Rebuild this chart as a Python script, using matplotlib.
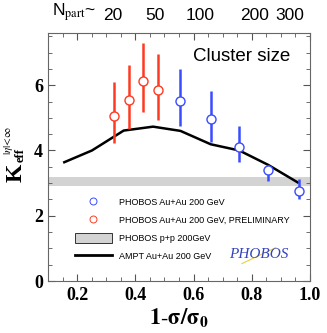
import numpy as np
import matplotlib
matplotlib.use('Agg')
import matplotlib.pyplot as plt
from matplotlib.patches import Patch
from matplotlib.lines import Line2D
from matplotlib.ticker import MultipleLocator

plt.rcParams['mathtext.fontset'] = 'stix'

# PHOBOS Au+Au 200 GeV
x_azul = [0.555, 0.659, 0.757, 0.855, 0.961]
y_azul = [5.52, 4.97, 4.12, 3.40, 2.77]
err_azul_sup = [6.50, 5.83, 4.75, 3.56, 3.13]
err_azul_inf = [4.75, 4.27, 3.64, 3.07, 2.52]

# PHOBOS Au+Au 200 GeV, preliminar
x_verm = [0.328, 0.377, 0.425, 0.477]
y_verm = [5.07, 5.56, 6.14, 5.86]
err_verm_sup = [6.11, 6.63, 7.29, 6.96]
err_verm_inf = [4.22, 4.65, 5.19, 4.92]

# AMPT
x_ampt = [0.156, 0.251, 0.360, 0.461, 0.555, 0.659, 0.757, 0.856, 0.958]
y_ampt = [3.64, 4.00, 4.61, 4.73, 4.60, 4.19, 4.00, 3.56, 3.02]

# banda p+p
pp_min, pp_max = 2.92, 3.18

npart_lbl = ['20', '50', '100', '200', '300']
npart_x = [0.324, 0.469, 0.624, 0.810, 0.931]

azul = '#3a4cff'
verm = '#ff3a22'

W, H = 327, 333
fig = plt.figure(figsize=(W / 100, H / 100), dpi=100)
ax = fig.add_axes([48 / W, 52 / H, 262 / W, 248 / H])

ax.axhspan(pp_min, pp_max, color='#d3d3d3', lw=0, zorder=1)
ax.plot(x_ampt, y_ampt, color='black', lw=1.8, zorder=2)

ya = np.array(y_azul)
ax.errorbar(x_azul, y_azul,
            yerr=[ya - np.array(err_azul_inf), np.array(err_azul_sup) - ya],
            fmt='o', mfc='white', mec=azul, ecolor=azul, elinewidth=1.8,
            ms=6.5, mew=1.0, capsize=0, zorder=3)
yv = np.array(y_verm)
ax.errorbar(x_verm, y_verm,
            yerr=[yv - np.array(err_verm_inf), np.array(err_verm_sup) - yv],
            fmt='o', mfc='white', mec=verm, ecolor=verm, elinewidth=1.8,
            ms=6.5, mew=1.0, capsize=0, zorder=3)

ax.set_xlim(0.1, 1.0)
ax.set_ylim(0, 7.6)
ax.xaxis.set_minor_locator(MultipleLocator(0.05))
ax.yaxis.set_minor_locator(MultipleLocator(0.5))
ax.tick_params(which='both', direction='in', top=True, right=True, color='#555555')
ax.tick_params(which='major', length=5, width=0.8)
ax.tick_params(which='minor', length=3, width=0.6)
ax.tick_params(axis='x', which='major', pad=4)
for s in ax.spines.values():
    s.set_color('#666666')
    s.set_linewidth(0.8)

ax.set_xticks([0.2, 0.4, 0.6, 0.8, 1.0])
ax.set_xticklabels(['0.2', '0.4', '0.6', '0.8', '1.0'],
                   fontfamily='Liberation Serif', fontweight='bold', fontsize=13)
ax.set_yticks([0, 2, 4, 6])
ax.set_yticklabels(['0', '2', '4', '6'],
                   fontfamily='Liberation Serif', fontweight='bold', fontsize=13)

ax.set_xlabel(r'$\mathbf{1\text{-}\sigma/\sigma_0}$', fontsize=16, labelpad=2)

# rotulo do eixo y montado em pedacos (K grande, indices pequenos)
fig.text(16.5 / W, 1 - 173 / H, 'K', rotation=90, ha='center', va='center',
         fontfamily='Liberation Serif', fontweight='bold', fontsize=17)
fig.text(20.5 / W, 1 - 155 / H, 'eff', rotation=90, ha='center', va='center',
         fontfamily='Liberation Serif', fontweight='bold', fontsize=9)
fig.text(8.5 / W, 1 - 140 / H, r'$|\eta|\!<\!\infty$', rotation=90,
         ha='center', va='center', fontsize=8)

# escala de Npart em cima
ax.text(0.114, 1.04, r'N$_{\rm part}$~', transform=ax.get_xaxis_transform(),
        fontfamily='Liberation Sans', fontsize=12.5, va='bottom', ha='left')
for xx, ll in zip(npart_x, npart_lbl):
    ax.text(xx, 1.04, ll, transform=ax.get_xaxis_transform(),
            fontfamily='Liberation Sans', fontsize=12.5, ha='center', va='bottom')

ax.text(0.924, 0.907, 'Cluster size', transform=ax.transAxes,
        fontfamily='Liberation Sans', fontsize=13.5, ha='right', va='center')

handles = [
    Line2D([], [], ls='none', marker='o', mfc='white', mec=azul, ms=5, mew=0.7),
    Line2D([], [], ls='none', marker='o', mfc='white', mec=verm, ms=5, mew=0.7),
    Patch(facecolor='#d3d3d3', edgecolor='#333333', lw=0.7),
    Line2D([], [], color='black', lw=2),
]
labels = ['PHOBOS Au+Au 200 GeV', 'PHOBOS Au+Au 200 GeV, PRELIMINARY',
          'PHOBOS p+p 200GeV', 'AMPT Au+Au 200 GeV']
ax.legend(handles, labels, loc='lower left', bbox_to_anchor=(0.103, 0.08),
          frameon=False, handlelength=4.1, handleheight=1.33,
          labelspacing=0.88, handletextpad=0.77, borderpad=0, borderaxespad=0,
          prop={'family': 'Liberation Sans', 'size': 6.5})

# logo PHOBOS aproximado
ax.plot([0.74, 0.87], [0.07, 0.135], transform=ax.transAxes, color='#e8d040',
        lw=0.8, zorder=4)
ax.text(0.805, 0.105, 'PHOBOS', transform=ax.transAxes, color='#3344bb',
        fontfamily='Liberation Serif', fontstyle='italic', fontsize=11,
        ha='center', va='center', zorder=5)

plt.savefig('out.png', dpi=100)
